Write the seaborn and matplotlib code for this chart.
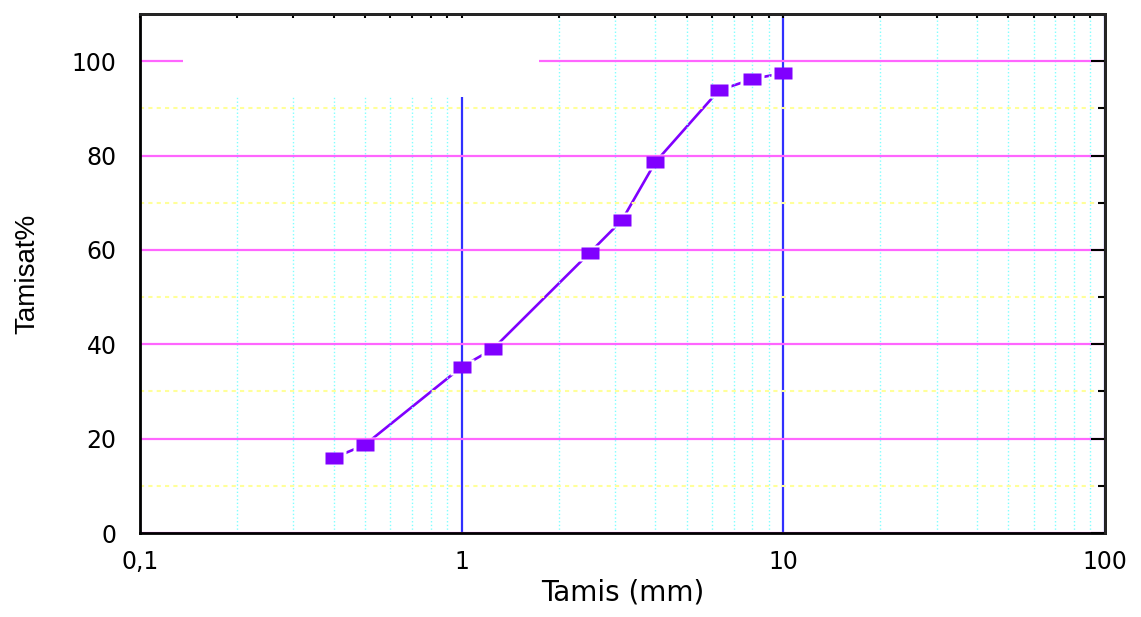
import numpy as np
import pandas as pd
import seaborn as sns
import matplotlib.pyplot as plt
from matplotlib.ticker import FixedLocator, NullFormatter, LogLocator
from matplotlib.patches import Rectangle
from matplotlib import font_manager

# sieve sizes (mm) and cumulative passing (%)
tamis_mm = [0.4, 0.5, 1.0, 1.25, 2.5, 3.15, 4.0, 6.3, 8.0, 10.0]
tamisat = [15.9, 18.7, 35.2, 39.0, 59.4, 66.3, 78.6, 93.8, 96.2, 97.5]

x_ticks = [0.1, 1, 10, 100]
x_labels = ["0,1", "1", "10", "100"]
y_ticks = [0, 20, 40, 60, 80, 100]
y_minor = [10, 30, 50, 70, 90]

sns.set_style("white")
plt.rcParams['font.family'] = ['DejaVu Sans']
plt.rcParams['text.color'] = 'black'
plt.rcParams['axes.labelcolor'] = 'black'
plt.rcParams['xtick.color'] = 'black'
plt.rcParams['ytick.color'] = 'black'

# a narrow face for the y label if one is around
names = {f.name for f in font_manager.fontManager.ttflist}
narrow, ysize = 'Liberation Sans', 20
for n, s in [('Liberation Sans Narrow', 23), ('DejaVu Sans Condensed', 20)]:
    if n in names:
        narrow, ysize = n, s
        break

fig = plt.figure(figsize=(11.41, 6.17), dpi=100)
ax = fig.add_axes([0.1227, 0.1361, 0.8458, 0.8412])

purple = '#8000ff'
df = pd.DataFrame({'tamis': tamis_mm, 'tamisat': tamisat})
sns.lineplot(data=df, x='tamis', y='tamisat', ax=ax, color=purple, linewidth=1.9, zorder=1.1)
box = [(-1, -0.64), (1, -0.64), (1, 0.64), (-1, 0.64), (-1, -0.64)]
ax.plot(df.tamis, df.tamisat, ls='none', marker=box, ms=17, mfc='white', mec='none', zorder=1.2)
ax.plot(df.tamis, df.tamisat, ls='none', marker=box, ms=12.6, mfc=purple, mec='none', zorder=2.2)

ax.set_xscale('log')
ax.set_xlim(0.1, 100)
ax.set_ylim(0, 110)
ax.set_xticks(x_ticks)
ax.set_xticklabels(x_labels)
ax.xaxis.set_minor_locator(LogLocator(subs=np.arange(2, 10)))
ax.xaxis.set_minor_formatter(NullFormatter())
ax.set_yticks(y_ticks)
ax.yaxis.set_minor_locator(FixedLocator(y_minor))

# grid sits between the line and the markers
ax.set_axisbelow('line')
ax.xaxis.grid(True, which='major', color='#3030ff', lw=1.6)
ax.xaxis.grid(True, which='minor', color='#80ffff', lw=1, ls=':')
ax.yaxis.grid(True, which='major', color='#ff66ff', lw=1.6)
ax.yaxis.grid(True, which='minor', color='#ffff99', lw=1.5, ls=(0, (2, 2)))

ax.tick_params(axis='both', which='both', direction='out', color='black', width=1.5)
ax.tick_params(axis='y', which='major', length=10, pad=7, labelsize=17)
ax.tick_params(axis='y', which='minor', length=5)
ax.tick_params(axis='x', which='major', length=7, pad=5, labelsize=17)
ax.tick_params(axis='x', which='minor', length=3.6)

for sp in ax.spines.values():
    sp.set_color('black')
    sp.set_linewidth(2)
    sp.set_zorder(3)

# blank legend box in the upper left
ax.add_patch(Rectangle((0.0446, 0.840), 0.369, 0.16, transform=ax.transAxes,
                       facecolor='white', edgecolor='none', zorder=1.6))

secx = ax.secondary_xaxis('top')
secx.set_xticks(x_ticks)
secx.xaxis.set_minor_locator(LogLocator(subs=np.arange(2, 10)))
secx.xaxis.set_major_formatter(NullFormatter())
secx.xaxis.set_minor_formatter(NullFormatter())
secx.tick_params(which='both', direction='in', length=3, width=1.5, color='black')
secx.spines['top'].set_linewidth(2)
secx.set_zorder(4)

secy = ax.secondary_yaxis('right')
secy.set_yticks(y_ticks)
secy.yaxis.set_minor_locator(FixedLocator(y_minor))
secy.yaxis.set_major_formatter(NullFormatter())
secy.tick_params(which='major', direction='in', length=10, width=1.5, color='black')
secy.tick_params(which='minor', direction='in', length=5, width=1.5, color='black')
secy.spines['right'].set_linewidth(2)
secy.set_zorder(4)

ax.set_xlabel('Tamis (mm)', fontsize=20)
ax.xaxis.set_label_coords(0.5, -0.088)
ax.set_ylabel('Tamisat%', fontsize=ysize, family=narrow)
ax.yaxis.set_label_coords(-0.103, 0.5)

fig.savefig('out.png', dpi=100)
